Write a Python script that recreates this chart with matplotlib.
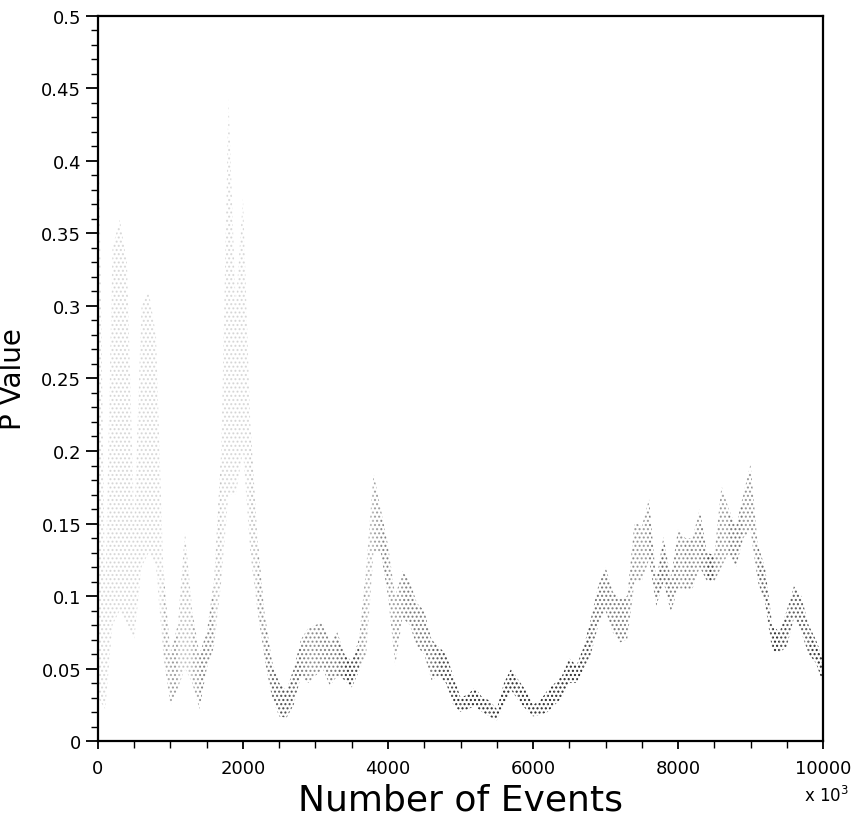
import matplotlib
matplotlib.use("Agg")
import matplotlib.pyplot as plt
import numpy as np

# Spread of the p-value dots, every 100 (x 10^3) events
events = [0, 100, 200, 300, 400, 500, 600, 700, 800, 900,
          1000, 1100, 1200, 1300, 1400, 1500, 1600, 1700, 1800, 1900,
          2000, 2100, 2200, 2300, 2400, 2500, 2600, 2700, 2800, 2900,
          3000, 3100, 3200, 3300, 3400, 3500, 3600, 3700, 3800, 3900,
          4000, 4100, 4200, 4300, 4400, 4500, 4600, 4700, 4800, 4900,
          5000, 5100, 5200, 5300, 5400, 5500, 5600, 5700, 5800, 5900,
          6000, 6100, 6200, 6300, 6400, 6500, 6600, 6700, 6800, 6900,
          7000, 7100, 7200, 7300, 7400, 7500, 7600, 7700, 7800, 7900,
          8000, 8100, 8200, 8300, 8400, 8500, 8600, 8700, 8800, 8900,
          9000, 9100, 9200, 9300, 9400, 9500, 9600, 9700, 9800, 9900,
          10000]
p_low = [0.030, 0.022, 0.080, 0.090, 0.080, 0.070, 0.120, 0.130, 0.120, 0.060,
         0.024, 0.036, 0.050, 0.040, 0.022, 0.050, 0.065, 0.110, 0.170, 0.170,
         0.200, 0.130, 0.090, 0.056, 0.030, 0.017, 0.016, 0.025, 0.045, 0.040,
         0.045, 0.050, 0.038, 0.045, 0.042, 0.037, 0.048, 0.060, 0.130, 0.130,
         0.100, 0.052, 0.085, 0.080, 0.065, 0.060, 0.042, 0.045, 0.040, 0.025,
         0.020, 0.022, 0.024, 0.020, 0.017, 0.014, 0.025, 0.035, 0.028, 0.022,
         0.017, 0.018, 0.020, 0.025, 0.030, 0.040, 0.040, 0.050, 0.060, 0.080,
         0.090, 0.075, 0.068, 0.070, 0.110, 0.110, 0.125, 0.093, 0.110, 0.089,
         0.105, 0.105, 0.105, 0.120, 0.110, 0.110, 0.120, 0.130, 0.120, 0.140,
         0.145, 0.110, 0.095, 0.062, 0.061, 0.065, 0.085, 0.075, 0.060, 0.054,
         0.040]
p_high = [0.450, 0.100, 0.340, 0.360, 0.330, 0.150, 0.300, 0.310, 0.280, 0.120,
          0.060, 0.080, 0.144, 0.090, 0.060, 0.075, 0.110, 0.200, 0.443, 0.300,
          0.375, 0.220, 0.140, 0.087, 0.055, 0.040, 0.035, 0.050, 0.070, 0.078,
          0.080, 0.082, 0.068, 0.075, 0.060, 0.055, 0.070, 0.120, 0.185, 0.160,
          0.135, 0.100, 0.117, 0.110, 0.095, 0.090, 0.070, 0.065, 0.060, 0.045,
          0.030, 0.032, 0.037, 0.030, 0.028, 0.022, 0.040, 0.050, 0.042, 0.035,
          0.025, 0.028, 0.035, 0.040, 0.045, 0.057, 0.052, 0.065, 0.085, 0.107,
          0.120, 0.103, 0.098, 0.100, 0.151, 0.148, 0.167, 0.110, 0.141, 0.112,
          0.146, 0.140, 0.140, 0.160, 0.130, 0.128, 0.176, 0.160, 0.148, 0.170,
          0.191, 0.135, 0.120, 0.080, 0.075, 0.090, 0.107, 0.100, 0.080, 0.070,
          0.057]

x = np.array(events)
lo = np.array(p_low)
hi = np.array(p_high)

font = "DejaVu Sans"
fig = plt.figure(figsize=(8.55, 8.2), dpi=100)
ax = fig.add_axes([0.1146, 0.0951, 0.848, 0.8842])

# wide spreads are sparse (light), narrow ones dense (dark)
for i in range(len(x) - 1):
    width = 0.5 * (hi[i] - lo[i] + hi[i + 1] - lo[i + 1])
    a = float(np.clip(0.016 / width, 0.15, 0.95))
    ax.fill_between(x[i:i + 2], lo[i:i + 2], hi[i:i + 2], facecolor="none",
                    edgecolor=(0.12, 0.12, 0.12, a), hatch="....", linewidth=0)

ax.set_xlim(0, 10000)
ax.set_ylim(0, 0.5)
ax.set_xticks(np.arange(0, 10001, 2000))
ax.set_xticks(np.arange(0, 10001, 500), minor=True)
ax.set_yticks(np.arange(0, 0.501, 0.05))
ax.set_yticks(np.arange(0, 0.501, 0.01), minor=True)
ax.set_yticklabels(["0", "0.05", "0.1", "0.15", "0.2", "0.25", "0.3",
                    "0.35", "0.4", "0.45", "0.5"])
ax.tick_params(which="major", direction="out", length=9, width=1.3,
               labelsize=13, pad=3)
ax.tick_params(which="minor", direction="out", length=5, width=1.0)
ax.tick_params(axis="x", which="major", length=6, pad=7)
ax.tick_params(axis="x", which="minor", length=5)
for s in ax.spines.values():
    s.set_linewidth(1.6)
for lab in ax.get_xticklabels() + ax.get_yticklabels():
    lab.set_fontfamily(font)

ax.set_xlabel("Number of Events", fontsize=26, family=font, labelpad=4)
ax.set_ylabel("P Value", fontsize=20, family=font, labelpad=10)
fig.text(0.94, 0.022, r"x 10$^{3}$", fontsize=12, family=font)

fig.savefig("out.png", dpi=100)
